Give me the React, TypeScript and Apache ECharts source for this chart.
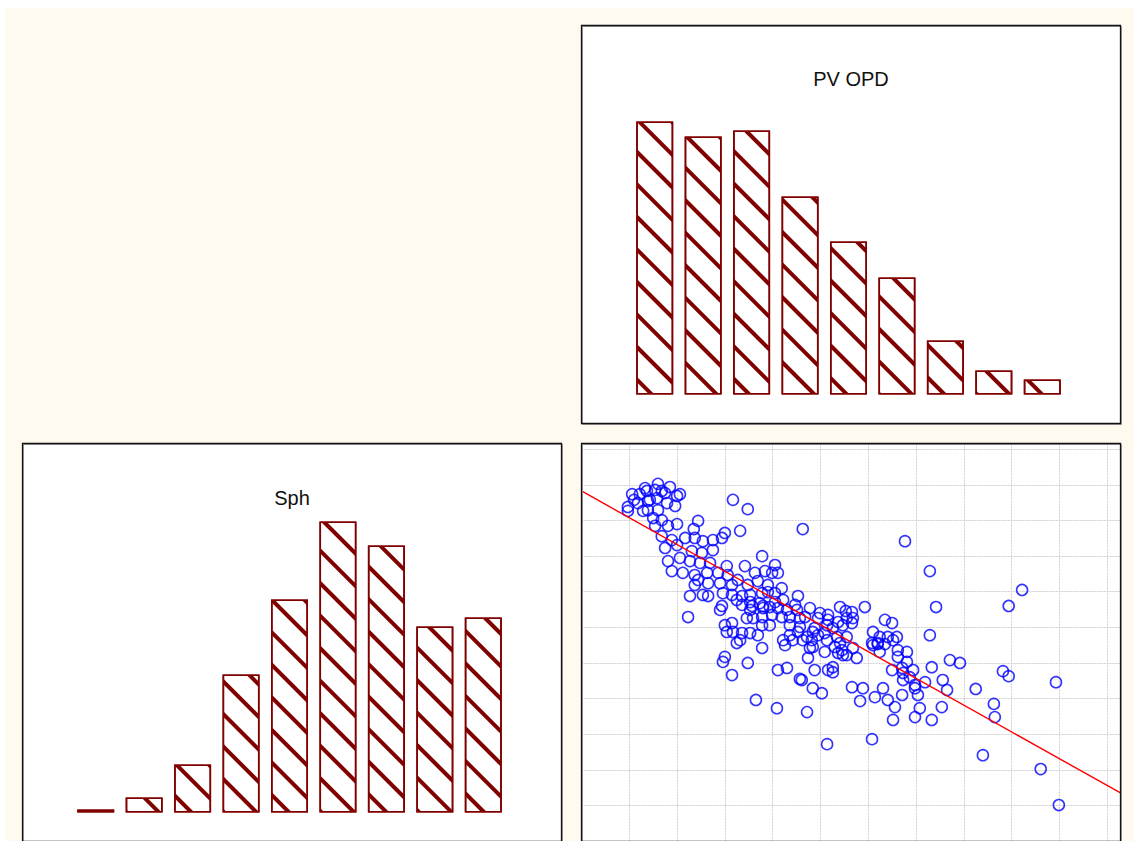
import React, { useEffect, useRef } from "react";
import * as echarts from "echarts";

// ---- data ----
const BIN_LABELS = ["1", "2", "3", "4", "5", "6", "7", "8", "9"];
const PV_OPD_COUNTS = [91, 86, 88, 66, 51, 39, 18, 8, 5];
const SPH_COUNTS = [1, 5, 16, 46, 71, 97, 89, 62, 65];

// scatter: [PV OPD, Sph]
const SCATTER_POINTS: [number, number][] = [
  [1.60, -0.97], [1.85, -1.06], [1.06, -1.26], [1.22, -1.26], [1.37, -1.17], [1.54, -1.14], [1.75, -1.23], [2.06, -1.26],
  [2.00, -1.31], [0.97, -1.62], [0.97, -1.73], [1.18, -1.51], [1.39, -1.45], [1.58, -1.37], [1.79, -1.51], [1.96, -1.59],
  [1.39, -1.71], [1.29, -1.73], [1.50, -1.93], [1.68, -1.99], [2.00, -2.10], [1.81, -2.15], [1.54, -2.15], [3.17, -1.42],
  [3.48, -1.68], [2.44, -2.01], [2.35, -2.24], [3.32, -2.29], [3.00, -2.35], [2.94, -2.49], [1.68, -2.44], [1.89, -2.55],
  [2.17, -2.49], [2.37, -2.49], [2.54, -2.58], [2.75, -2.55], [1.75, -2.77], [2.00, -2.69], [2.31, -2.86], [2.52, -2.91],
  [2.75, -2.83], [1.81, -3.14], [2.06, -3.05], [2.27, -3.14], [2.48, -3.19], [2.69, -3.19], [3.04, -3.28], [1.89, -3.42],
  [2.12, -3.47], [2.37, -3.53], [2.63, -3.47], [2.86, -3.47], [3.06, -3.53], [3.42, -3.28], [3.78, -3.00], [3.63, -3.47],
  [3.84, -3.42], [4.05, -3.25], [4.11, -3.47], [2.37, -3.81], [2.44, -3.67], [2.65, -3.76], [2.90, -3.76], [3.15, -3.81],
  [3.27, -3.67], [3.48, -3.81], [3.69, -3.70], [3.90, -3.81], [4.19, -3.90], [2.27, -4.12], [2.54, -4.09], [2.65, -4.12],
  [2.96, -4.04], [3.15, -4.09], [3.36, -4.12], [3.53, -4.09], [3.78, -4.04], [4.05, -4.04], [2.94, -4.40], [3.36, -4.37],
  [3.57, -4.40], [3.80, -4.40], [3.99, -3.47], [3.90, -4.01], [4.53, -4.12], [3.25, -4.23], [3.53, -4.29], [3.73, -4.32],
  [4.05, -4.29], [4.22, -4.23], [4.47, -4.37], [2.90, -4.51], [3.53, -4.51], [3.80, -4.46], [3.94, -4.43], [4.11, -4.46],
  [4.30, -4.51], [4.51, -4.51], [4.78, -4.46], [4.99, -4.60], [5.16, -4.65], [5.41, -4.43], [5.66, -4.57], [5.93, -4.43],
  [3.46, -4.74], [3.59, -4.74], [3.78, -4.71], [3.99, -4.65], [4.19, -4.71], [4.36, -4.71], [4.57, -4.74], [4.68, -4.71],
  [4.95, -4.74], [5.16, -4.79], [5.37, -4.85], [5.55, -4.74], [5.68, -4.74], [3.00, -4.94], [3.15, -4.88], [3.78, -4.94],
  [3.94, -4.94], [4.36, -4.94], [4.57, -4.99], [4.88, -5.02], [5.14, -4.94], [5.26, -5.02], [5.47, -4.94], [3.04, -5.13],
  [3.17, -5.13], [3.36, -5.16], [3.53, -5.16], [3.69, -5.22], [4.36, -5.22], [4.53, -5.13], [4.72, -5.27], [4.95, -5.22],
  [5.35, -5.27], [5.55, -5.27], [3.32, -5.36], [4.22, -5.36], [4.42, -5.36], [4.82, -5.36], [5.14, -5.36], [5.41, -5.44],
  [5.68, -5.58], [3.78, -5.58], [4.26, -5.50], [4.78, -5.58], [5.09, -5.69], [5.37, -5.72], [5.55, -5.78], [5.76, -5.86],
  [3.00, -5.83], [2.96, -5.97], [3.48, -6.00], [4.74, -5.86], [5.26, -6.12], [5.16, -6.20], [4.88, -6.20], [4.11, -6.20],
  [4.30, -6.14], [3.15, -6.34], [4.57, -6.45], [4.84, -6.71], [5.66, -6.68], [5.89, -6.71], [7.42, -4.43], [5.53, -4.54],
  [5.66, -4.88], [6.35, -4.79], [6.50, -4.88], [4.84, -5.13], [5.09, -5.16], [6.10, -5.13], [6.24, -5.27], [6.41, -5.27],
  [6.60, -5.27], [7.29, -5.22], [4.63, -5.36], [6.08, -5.44], [6.20, -5.44], [6.35, -5.47], [4.84, -5.55], [5.30, -5.55],
  [5.45, -5.64], [6.62, -5.64], [6.81, -5.69], [6.24, -5.69], [5.47, -5.78], [6.62, -5.83], [6.81, -5.97], [7.71, -5.92],
  [7.92, -6.00], [5.26, -6.26], [6.50, -6.20], [6.71, -6.14], [6.94, -6.20], [7.33, -6.12], [6.73, -6.28], [6.87, -6.40],
  [4.61, -6.48], [6.73, -6.48], [6.98, -6.62], [7.19, -6.54], [7.56, -6.48], [5.03, -6.85], [6.31, -6.71], [6.98, -6.71],
  [7.04, -6.90], [7.65, -6.76], [6.14, -6.96], [5.83, -7.07], [6.41, -7.04], [6.71, -6.90], [6.56, -7.24], [7.08, -7.27],
  [7.54, -7.24], [4.72, -7.38], [6.52, -7.60], [6.98, -7.52], [7.33, -7.60], [6.10, -5.50], [6.20, -5.47], [6.52, -5.36],
  [8.82, -6.23], [8.94, -6.37], [9.93, -6.54], [8.25, -6.73], [8.63, -7.15], [8.65, -7.52], [6.08, -8.14], [8.40, -8.59],
  [9.61, -8.98], [9.99, -9.99], [3.25, -5.44], [3.65, -7.04], [4.09, -7.27], [5.14, -8.28], [4.63, -2.24], [6.77, -2.58],
  [7.29, -3.42], [8.94, -4.40], [9.22, -3.95], [2.23, -4.71], [1.60, -1.71], [1.43, -1.42], [1.33, -1.09], [1.68, -1.17],
  [1.10, -1.42],
];

// fitted regression line end points
const FIT_LINE: [number, number][] = [
  [0, -1.17],
  [11.28, -9.65],
];

// ---- layout ----
const W = 1134;
const H = 841;
const PANEL_W = 539;
const PANEL_H = 398;
const PANELS = {
  tr: { x: 581.5, y: 25.5 },
  bl: { x: 22.5, y: 443.5 },
  br: { x: 581.5, y: 443.5 },
};
const BAR_COLOR = "#800000";
const FONT = '20px "Liberation Sans", Arial, Helvetica, sans-serif';

function panelBg(p: { x: number; y: number }) {
  return {
    type: "rect",
    silent: true,
    z: -50,
    shape: { x: p.x, y: p.y, width: PANEL_W, height: PANEL_H },
    style: { fill: "#ffffff" },
  };
}
function panelBorder(p: { x: number; y: number }) {
  return [
    {
      type: "rect",
      silent: true,
      z: 99,
      shape: { x: p.x + 1, y: p.y + 1, width: PANEL_W, height: PANEL_H },
      style: { fill: "none", stroke: "#a0a0a0", lineWidth: 1 },
    },
    {
      type: "rect",
      silent: true,
      z: 100,
      shape: { x: p.x, y: p.y, width: PANEL_W, height: PANEL_H },
      style: { fill: "none", stroke: "#111111", lineWidth: 1.3 },
    },
  ];
}

const decal = {
  symbol: "rect",
  symbolSize: 1,
  color: BAR_COLOR,
  dashArrayX: [1, 0],
  dashArrayY: [4, 19],
  rotation: Math.PI / 4,
};

function barSeries(data: number[], idx: number) {
  return {
    type: "bar",
    xAxisIndex: idx,
    yAxisIndex: idx,
    data,
    barWidth: 37,
    silent: true,
    itemStyle: {
      color: "#ffffff",
      borderColor: BAR_COLOR,
      borderWidth: 1.6,
      decal,
    },
  };
}

const hiddenCat = (idx: number) => ({
  type: "category",
  gridIndex: idx,
  data: BIN_LABELS,
  show: false,
});
const hiddenVal = (idx: number) => ({
  type: "value",
  gridIndex: idx,
  min: 0,
  max: 110,
  show: false,
  splitLine: { show: false },
});

const gridLine = {
  show: true,
  lineStyle: { color: "#cfcfcf", width: 1, type: [2, 1] },
};

const option = {
  animation: false,
  backgroundColor: "transparent",
  graphic: [
    {
      type: "rect",
      silent: true,
      z: -100,
      shape: { x: 5, y: 8, width: W - 5, height: H - 8 },
      style: { fill: "#fffaf0" },
    },
    panelBg(PANELS.tr),
    panelBg(PANELS.bl),
    panelBg(PANELS.br),
    ...panelBorder(PANELS.tr),
    ...panelBorder(PANELS.bl),
    ...panelBorder(PANELS.br),
    {
      type: "text",
      silent: true,
      z: 100,
      x: PANELS.tr.x + PANEL_W / 2,
      y: PANELS.tr.y + 53,
      style: { text: "PV OPD", font: FONT, fill: "#111111", align: "center", verticalAlign: "middle" },
    },
    {
      type: "text",
      silent: true,
      z: 100,
      x: PANELS.bl.x + PANEL_W / 2,
      y: PANELS.bl.y + 54,
      style: { text: "Sph", font: FONT, fill: "#111111", align: "center", verticalAlign: "middle" },
    },
  ],
  grid: [
    { left: PANELS.tr.x + 49, top: PANELS.tr.y + PANEL_H - 29 - 330, width: 436, height: 330 },
    { left: PANELS.bl.x + 49, top: PANELS.bl.y + PANEL_H - 29 - 330, width: 436, height: 330 },
    { left: PANELS.br.x, top: PANELS.br.y, width: PANEL_W, height: 397.5 },
  ],
  xAxis: [
    hiddenCat(0),
    hiddenCat(1),
    {
      type: "value",
      gridIndex: 2,
      min: 0,
      max: 11.28,
      interval: 1,
      axisLine: { show: false },
      axisTick: { show: false },
      axisLabel: { show: false },
      splitLine: gridLine,
    },
  ],
  yAxis: [
    hiddenVal(0),
    hiddenVal(1),
    {
      type: "value",
      gridIndex: 2,
      min: -11,
      max: 0.163,
      interval: 1,
      axisLine: { show: false },
      axisTick: { show: false },
      axisLabel: { show: false },
      splitLine: gridLine,
    },
  ],
  series: [
    barSeries(PV_OPD_COUNTS, 0),
    barSeries(SPH_COUNTS, 1),
    {
      type: "scatter",
      xAxisIndex: 2,
      yAxisIndex: 2,
      data: SCATTER_POINTS,
      symbol: "circle",
      symbolSize: 11,
      silent: true,
      z: 3,
      itemStyle: { color: "rgba(0,0,0,0)", borderColor: "#0000ff", borderWidth: 1.6 },
    },
    {
      type: "line",
      xAxisIndex: 2,
      yAxisIndex: 2,
      data: FIT_LINE,
      showSymbol: false,
      symbol: "none",
      silent: true,
      z: 4,
      lineStyle: { color: "#ff0000", width: 1.4 },
    },
  ],
};

export default function App() {
  const ref = useRef<HTMLDivElement>(null);
  useEffect(() => {
    if (!ref.current) return;
    const chart = echarts.init(ref.current, null, { renderer: "svg", width: W, height: H });
    chart.setOption(option as any);
    return () => chart.dispose();
  }, []);
  return <div ref={ref} style={{ position: "absolute", left: 0, top: 0, width: W, height: H }} />;
}
